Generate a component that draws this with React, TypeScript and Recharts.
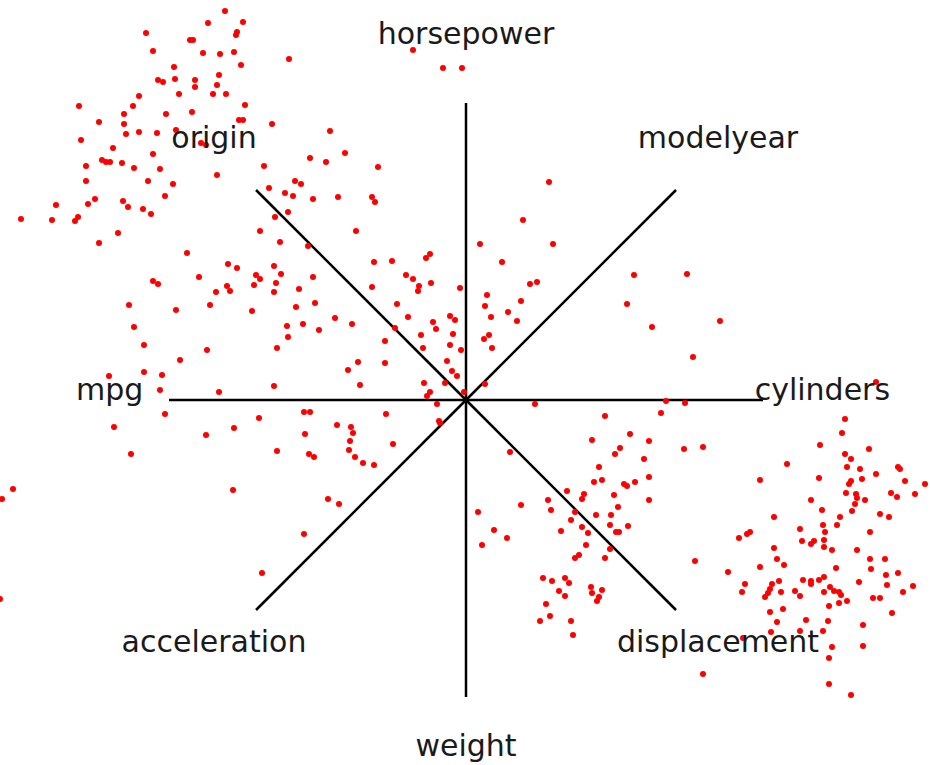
import React from 'react';
import { ScatterChart, Scatter, XAxis, YAxis, ReferenceLine } from 'recharts';

// star-coordinate axes, counter-clockwise from the right
const axisNames = ['cylinders', 'modelyear', 'horsepower', 'origin', 'mpg', 'acceleration', 'weight', 'displacement'];
const axisAngles = [0, 45, 90, 135, 180, 225, 270, 315];
const axisLength = 297;
const labelFactor = 1.2;

// projected samples (x, y) in axis units, center = (0, 0)
const upperLeft: [number, number][] = [
  [-241, 389], [-258, 377], [-223, 378], [-320, 367], [-229, 368], [-230, 365], [-276, 360], [-273, 360],
  [-313, 349], [-263, 347], [-246, 346], [-232, 348], [-177, 341], [-225, 335], [-292, 333], [-247, 325],
  [-308, 320], [-303, 318], [-291, 321], [-271, 320], [-271, 313], [-249, 315], [-287, 306], [-253, 306],
  [-240, 306], [-327, 304], [-387, 294], [-333, 294], [-221, 295], [-342, 286], [-300, 286], [-274, 288],
  [-367, 278], [-342, 276], [-227, 280], [-223, 280], [-194, 276], [-340, 266], [-327, 268], [-309, 267],
  [-290, 270], [-385, 260], [-265, 257], [-260, 255], [-353, 252], [-313, 246], [-364, 240], [-360, 238],
  [-356, 238], [-344, 237], [-380, 234], [-332, 232], [-306, 231], [-202, 234], [-156, 242], [-380, 219],
  [-318, 219], [-293, 216], [-249, 225], [-197, 212], [-171, 219], [-165, 216], [-181, 207], [-173, 204],
  [-301, 204], [-410, 195], [-378, 196], [-371, 201], [-343, 199], [-338, 193], [-323, 191], [-315, 186],
  [-445, 181], [-414, 180], [-391, 179], [-388, 183], [-348, 167], [-367, 157], [-191, 183], [-178, 188],
  [-206, 169], [-186, 158], [-158, 154], [-279, 147],
];

const upperMiddle: [number, number][] = [
  [-53, 350], [-23, 332], [-4, 332], [-136, 269], [-121, 247], [-140, 238], [-88, 233], [-153, 201],
  [-128, 203], [-94, 203], [-91, 198], [-110, 169], [-36, 146], [14, 156], [57, 180], [83, 218], [87, 156],
  [-238, 136], [-229, 132], [-192, 134], [-185, 126], [-210, 125], [-206, 121], [-313, 119], [-308, 116],
  [-267, 123], [-153, 123], [-239, 114], [-236, 109], [-250, 108], [-212, 115], [-190, 117], [-192, 108],
  [-167, 111], [-337, 95], [-290, 90], [-256, 95], [-214, 89], [-170, 93], [-151, 97], [-131, 82],
  [-332, 73], [-179, 74], [-163, 76], [-147, 70], [-178, 63], [-322, 55], [-189, 52], [-259, 50],
  [-286, 40], [-357, 24], [-322, 28], [-304, 25], [-306, 10], [-192, 14], [-247, 8],
];

const center: [number, number][] = [
  [-92, 138], [-74, 139], [-40, 142], [36, 138], [-60, 125], [-53, 121], [-47, 114], [-48, 109],
  [-35, 117], [-94, 113], [-6, 112], [64, 116], [71, 118], [21, 105], [19, 94], [55, 99], [-69, 96],
  [-114, 76], [-58, 83], [-16, 84], [-11, 80], [25, 83], [42, 88], [51, 79], [-33, 78], [-30, 71],
  [-71, 72], [-45, 65], [-13, 66], [23, 65], [18, 61], [-81, 59], [-43, 52], [-16, 55], [-5, 50],
  [26, 52], [-108, 38], [-81, 37], [-118, 30], [-19, 39], [-14, 29], [-9, 24], [-106, 15], [-42, 17],
  [-21, 17], [-36, 8], [-39, 4], [-2, 8], [19, 16], [-29, -4], [69, -4],
  [168, 125], [221, 126], [161, 96], [186, 73], [254, 79], [227, 43],
];

const lowerLeft: [number, number][] = [
  [-301, -14], [-162, -12], [-156, -12], [-207, -18], [-352, -27], [-232, -28], [-129, -25],
  [-335, -54], [-260, -35], [-161, -34], [-189, -51], [-157, -54], [-152, -57], [-115, -27], [-113, -33],
  [-116, -41], [-117, -50], [-111, -57], [-103, -63], [-92, -65], [-80, -14], [-73, -44], [-27, -21],
  [-26, -23], [-233, -90], [-138, -99], [-127, -104], [-162, -134], [-204, -173],
  [-453, -89], [-464, -99], [-466, -199],
];

const lowerMiddle: [number, number][] = [
  [200, -1], [219, -3], [195, -13], [139, -16], [164, -34], [126, -40], [183, -41], [154, -48],
  [149, -54], [218, -49], [237, -47], [178, -59], [44, -52], [133, -67], [136, -80], [128, -82],
  [158, -84], [161, -86], [169, -82], [183, -77], [101, -91], [118, -94], [116, -99], [148, -95],
  [82, -100], [183, -100], [55, -105], [85, -110], [152, -107], [12, -112], [109, -112], [130, -115],
  [145, -115], [105, -120], [116, -127], [144, -125], [162, -126], [150, -132], [153, -132], [122, -133],
  [95, -131], [28, -130], [41, -138], [16, -145], [120, -145], [144, -149], [113, -155], [109, -158],
  [139, -158], [229, -161], [262, -172], [77, -178], [86, -181], [99, -178], [103, -183], [125, -187],
  [136, -190], [93, -191], [99, -196], [126, -193], [133, -197], [131, -201], [80, -204], [84, -216],
  [74, -221], [105, -221], [107, -235],
];

const farRight: [number, number][] = [
  [410, 18], [379, -19], [376, -33], [354, -45], [403, -49], [379, -54], [385, -59], [321, -64],
  [381, -67], [394, -69], [432, -67], [434, -69], [410, -74], [396, -79], [353, -78], [294, -80],
  [439, -81], [385, -81], [383, -84], [459, -84], [380, -93], [390, -94], [391, -98], [425, -93],
  [431, -97], [449, -94], [399, -100], [345, -100], [389, -104], [386, -111], [356, -110], [414, -114],
  [423, -117], [308, -117], [374, -117], [371, -125], [357, -125], [334, -129], [359, -132], [404, -132],
  [284, -132], [281, -134], [273, -138], [336, -141], [345, -144], [348, -141], [358, -140], [358, -147],
  [366, -150], [391, -150], [308, -148], [311, -159], [318, -165], [404, -159], [419, -159], [294, -167],
  [370, -168], [405, -169], [420, -175], [432, -173], [337, -180], [345, -181], [353, -180], [358, -177],
  [345, -184], [313, -181], [306, -184], [279, -184], [393, -182], [421, -185], [447, -186], [437, -192],
  [304, -189], [302, -193], [315, -192], [276, -192], [329, -191], [334, -196], [358, -192], [364, -187],
  [368, -191], [373, -192], [375, -195], [381, -201], [373, -203], [363, -206], [407, -198], [414, -198],
  [299, -197], [317, -209], [304, -212], [426, -213], [340, -220], [311, -222], [362, -221], [397, -225],
  [305, -232], [334, -231], [357, -231], [277, -238], [366, -247], [397, -246], [363, -258], [237, -274],
  [363, -284], [385, -295],
];

const points = [...upperLeft, ...upperMiddle, ...center, ...lowerLeft, ...lowerMiddle, ...farRight].map(
  ([x, y]) => ({ x, y })
);

const axes = axisNames.map((name, i) => {
  const a = (axisAngles[i] * Math.PI) / 180;
  const ex = Math.round(Math.cos(a) * axisLength);
  const ey = Math.round(Math.sin(a) * axisLength);
  return { name, ex, ey, lx: ex * labelFactor, ly: ey * labelFactor };
});

const labels = axes.map((a) => ({ x: a.lx, y: a.ly, name: a.name }));

const Dot = (props: any) => <circle cx={props.cx} cy={props.cy} r={3} fill="#ff0000" />;

const Label = (props: any) => (
  <text
    x={props.cx}
    y={props.cy}
    textAnchor="middle"
    fontFamily="DejaVu Sans"
    fontSize={30}
    fill="#1a1a1a"
  >
    {props.payload.name}
  </text>
);

const App: React.FC = () => {
  return (
    <div style={{ position: 'absolute', left: 0, top: 0, background: '#fff' }}>
      <ScatterChart width={931} height={765} margin={{ top: 0, right: 0, bottom: 0, left: 0 }}>
        <XAxis type="number" dataKey="x" domain={[-466, 465]} hide allowDataOverflow />
        <YAxis type="number" dataKey="y" domain={[-365, 400]} hide allowDataOverflow />
        {axes.map((a) => (
          <ReferenceLine
            key={a.name}
            segment={[{ x: 0, y: 0 }, { x: a.ex, y: a.ey }]}
            stroke="#000"
            strokeWidth={2.5}
            ifOverflow="visible"
          />
        ))}
        <Scatter data={points} shape={Dot} isAnimationActive={false} />
        <Scatter data={labels} shape={Label} isAnimationActive={false} />
      </ScatterChart>
    </div>
  );
};

export default App;
